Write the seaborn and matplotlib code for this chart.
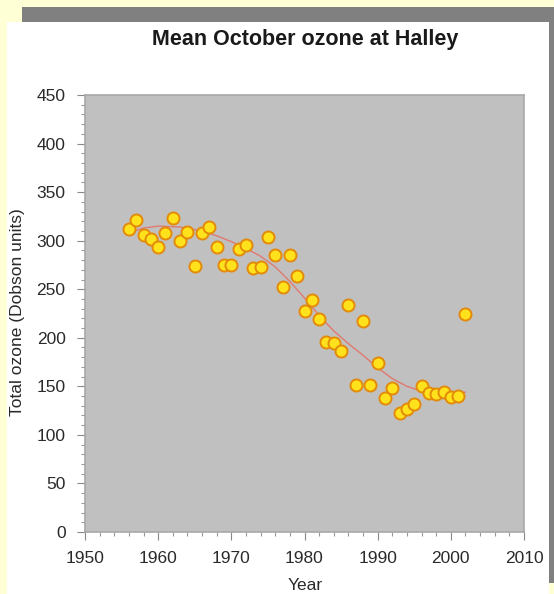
import matplotlib
matplotlib.use("Agg")
import matplotlib.pyplot as plt
from matplotlib.patches import Rectangle
from matplotlib.ticker import MultipleLocator
import seaborn as sns
import pandas as pd

years = list(range(1956, 2003))
ozone = [312, 321, 306, 302, 293, 308, 323, 300, 309, 274,
         308, 314, 293, 275, 275, 291, 296, 272, 273, 304,
         285, 252, 285, 264, 228, 239, 219, 196, 195, 186,
         234, 151, 217, 151, 174, 138, 148, 123, 127, 132,
         150, 143, 142, 144, 139, 140, 225]

trend_years = [1956, 1958, 1960, 1963, 1966, 1968, 1970, 1972, 1974, 1976,
               1978, 1980, 1982, 1984, 1986, 1988, 1990, 1992, 1994, 1996,
               1998, 2000, 2002]
trend_vals = [308, 313, 315, 314, 310, 305, 299, 292, 284, 273,
              258, 241, 223, 207, 194, 182, 169, 158, 150, 145,
              143, 143, 144]

df = pd.DataFrame({"Year": years, "Ozone": ozone})
tf = pd.DataFrame({"Year": trend_years, "Ozone": trend_vals})

sns.set_style("ticks")
plt.rcParams['font.family'] = ['Liberation Sans', 'DejaVu Sans']
txt = "#2a2a2a"

fig = plt.figure(figsize=(5.54, 5.94), dpi=100)
fig.patch.set_facecolor("#FFFFD6")
W, H = 554.0, 594.0
# white panel and grey frame stripes
fig.patches.append(Rectangle((7 / W, 0), 542 / W, 572 / H, transform=fig.transFigure,
                             facecolor="white", edgecolor="none", zorder=-10))
fig.patches.append(Rectangle((22 / W, (H - 22) / H), 1, 15 / H, transform=fig.transFigure,
                             facecolor="#808080", edgecolor="none", zorder=-10))
fig.patches.append(Rectangle((549 / W, 11 / H), 5 / W, 576 / H, transform=fig.transFigure,
                             facecolor="#808080", edgecolor="none", zorder=-10))

ax = fig.add_axes([85 / W, 62 / H, 439 / W, 437 / H])
ax.set_zorder(5)
ax.set_facecolor("#C0C0C0")

sns.lineplot(data=tf, x="Year", y="Ozone", ax=ax, color="#E07A70", linewidth=1.0, zorder=2)
sns.scatterplot(data=df, x="Year", y="Ozone", ax=ax, s=75, color="#FFE21C",
                edgecolor="#E38A08", linewidth=1.4, zorder=3)

ax.set_xlim(1950, 2010)
ax.set_ylim(0, 450)
ax.xaxis.set_major_locator(MultipleLocator(10))
ax.xaxis.set_minor_locator(MultipleLocator(2))
ax.yaxis.set_major_locator(MultipleLocator(50))
ax.yaxis.set_minor_locator(MultipleLocator(10))
ax.tick_params(axis="both", which="major", length=6, width=0.8, color="#888888",
               labelsize=12.5, labelcolor=txt, pad=8)
ax.tick_params(axis="both", which="minor", length=3, width=0.8, color="#999999")
for s in ax.spines.values():
    s.set_color("#A8A8A8")
    s.set_linewidth(1.2)
ax.set_xlabel("")
ax.set_ylabel("")

fig.text(305 / W, (H - 40) / H, "Mean October ozone at Halley", ha="center", va="center",
         fontsize=15.5, fontweight="bold", color="#1a1a1a")
fig.text(305 / W, (H - 586) / H, "Year", ha="center", va="center", fontsize=12.5, color=txt)
fig.text(18 / W, (H - 312) / H, "Total ozone (Dobson units)", ha="center", va="center",
         rotation=90, fontsize=12.5, color=txt)

fig.savefig("out.png", dpi=100, facecolor=fig.get_facecolor())
